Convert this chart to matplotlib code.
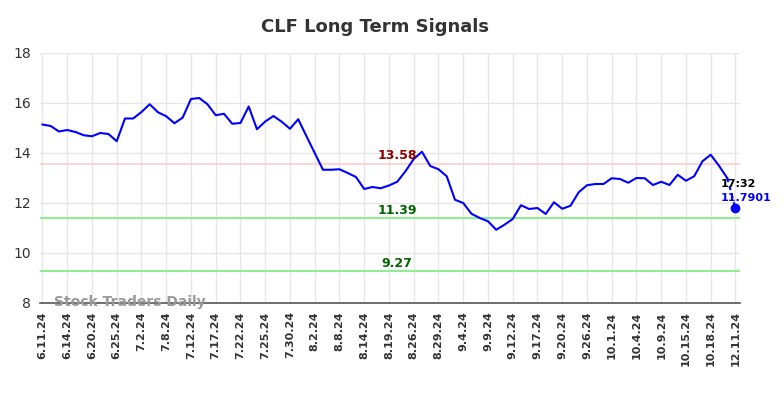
import matplotlib
matplotlib.use("Agg")
import matplotlib.pyplot as plt

values = [15.14, 15.08, 14.86, 14.92, 14.84, 14.71, 14.67, 14.80, 14.76, 14.47,
          15.38, 15.38, 15.64, 15.95, 15.63, 15.47, 15.19, 15.42, 16.16, 16.20,
          15.95, 15.51, 15.57, 15.17, 15.20, 15.86, 14.95, 15.26, 15.48, 15.25,
          14.97, 15.35, 14.67, 14.00, 13.33, 13.33, 13.35, 13.20, 13.04, 12.56,
          12.64, 12.59, 12.70, 12.85, 13.27, 13.76, 14.05, 13.48, 13.35, 13.07,
          12.13, 12.00, 11.57, 11.40, 11.27, 10.93, 11.13, 11.36, 11.91, 11.76,
          11.80, 11.56, 12.03, 11.77, 11.89, 12.43, 12.71, 12.76, 12.76, 12.99,
          12.96, 12.81, 13.00, 12.99, 12.72, 12.85, 12.72, 13.13, 12.89, 13.07,
          13.67, 13.93, 13.49, 13.00, 11.7901]

tick_labels = ["6.11.24", "6.14.24", "6.20.24", "6.25.24", "7.2.24", "7.8.24",
               "7.12.24", "7.17.24", "7.22.24", "7.25.24", "7.30.24", "8.2.24",
               "8.8.24", "8.14.24", "8.19.24", "8.26.24", "8.29.24", "9.4.24",
               "9.9.24", "9.12.24", "9.17.24", "9.20.24", "9.26.24", "10.1.24",
               "10.4.24", "10.9.24", "10.15.24", "10.18.24", "12.11.24"]
tick_step = 3

resistance = 13.58
support_levels = [11.39, 9.27]
last_time = "17:32"

x = list(range(len(values)))

fig = plt.figure(figsize=(7.84, 3.98), dpi=100)
ax = fig.add_axes([39.5 / 784, 1 - 303 / 398, 700.5 / 784, 250 / 398])

ax.plot(x[:-1], values[:-1], color="#0000ff", lw=1.5, zorder=3)
ax.plot(x[-2:], values[-2:], color="#0000ff", lw=1.5, ls=(0, (2, 2)), zorder=3)
ax.plot([x[-1]], [values[-1]], "o", color="#0000ff", ms=6, zorder=4)

ax.axhline(resistance, color="#ffcccc", lw=1.2, zorder=2)
for s in support_levels:
    ax.axhline(s, color="#90ee90", lw=1.5, zorder=2)

mid = 43
ax.text(mid, resistance + 0.32, f"{resistance:.2f}", color="#8b0000", fontsize=9,
        fontweight="bold", ha="center", va="center", zorder=5)
for s in support_levels:
    ax.text(mid, s + 0.3, f"{s:.2f}", color="#006400", fontsize=9,
            fontweight="bold", ha="center", va="center", zorder=5)

ax.text(x[-1] - 1.75, values[-1] + 0.4, f"{values[-1]:.4f}", color="#0000ff", fontsize=8,
        fontweight="bold", ha="left", va="center", zorder=5)
ax.text(x[-1] - 1.75, values[-1] + 0.96, last_time, color="black", fontsize=8,
        fontweight="bold", ha="left", va="center", zorder=5)

ax.text(1.4, 8.04, "Stock Traders Daily", color="#999999", fontsize=10,
        fontweight="bold", ha="left", va="center", zorder=5)

ax.set_xlim(-0.36, 84.55)
ax.set_ylim(8, 18)
ax.set_yticks([8, 10, 12, 14, 16, 18])
ticks = x[::tick_step]
ax.set_xticks(ticks)
ax.set_xticklabels(tick_labels, rotation=90, fontsize=8, fontweight="bold", color="#333333")
ax.tick_params(axis="y", labelsize=10, colors="#333333", length=0, pad=6)
ax.tick_params(axis="x", length=0, pad=6)
ax.grid(True, color="#e6e6e6", lw=1)
ax.set_axisbelow(True)
for side in ["top", "right", "left"]:
    ax.spines[side].set_visible(False)
ax.spines["bottom"].set_color("#555555")
ax.spines["bottom"].set_linewidth(1.2)

fig.text(375 / 784, 1 - 27 / 398, "CLF Long Term Signals", fontsize=13,
         fontweight="bold", color="#333333", ha="center", va="center")

fig.savefig("out.png", dpi=100)
